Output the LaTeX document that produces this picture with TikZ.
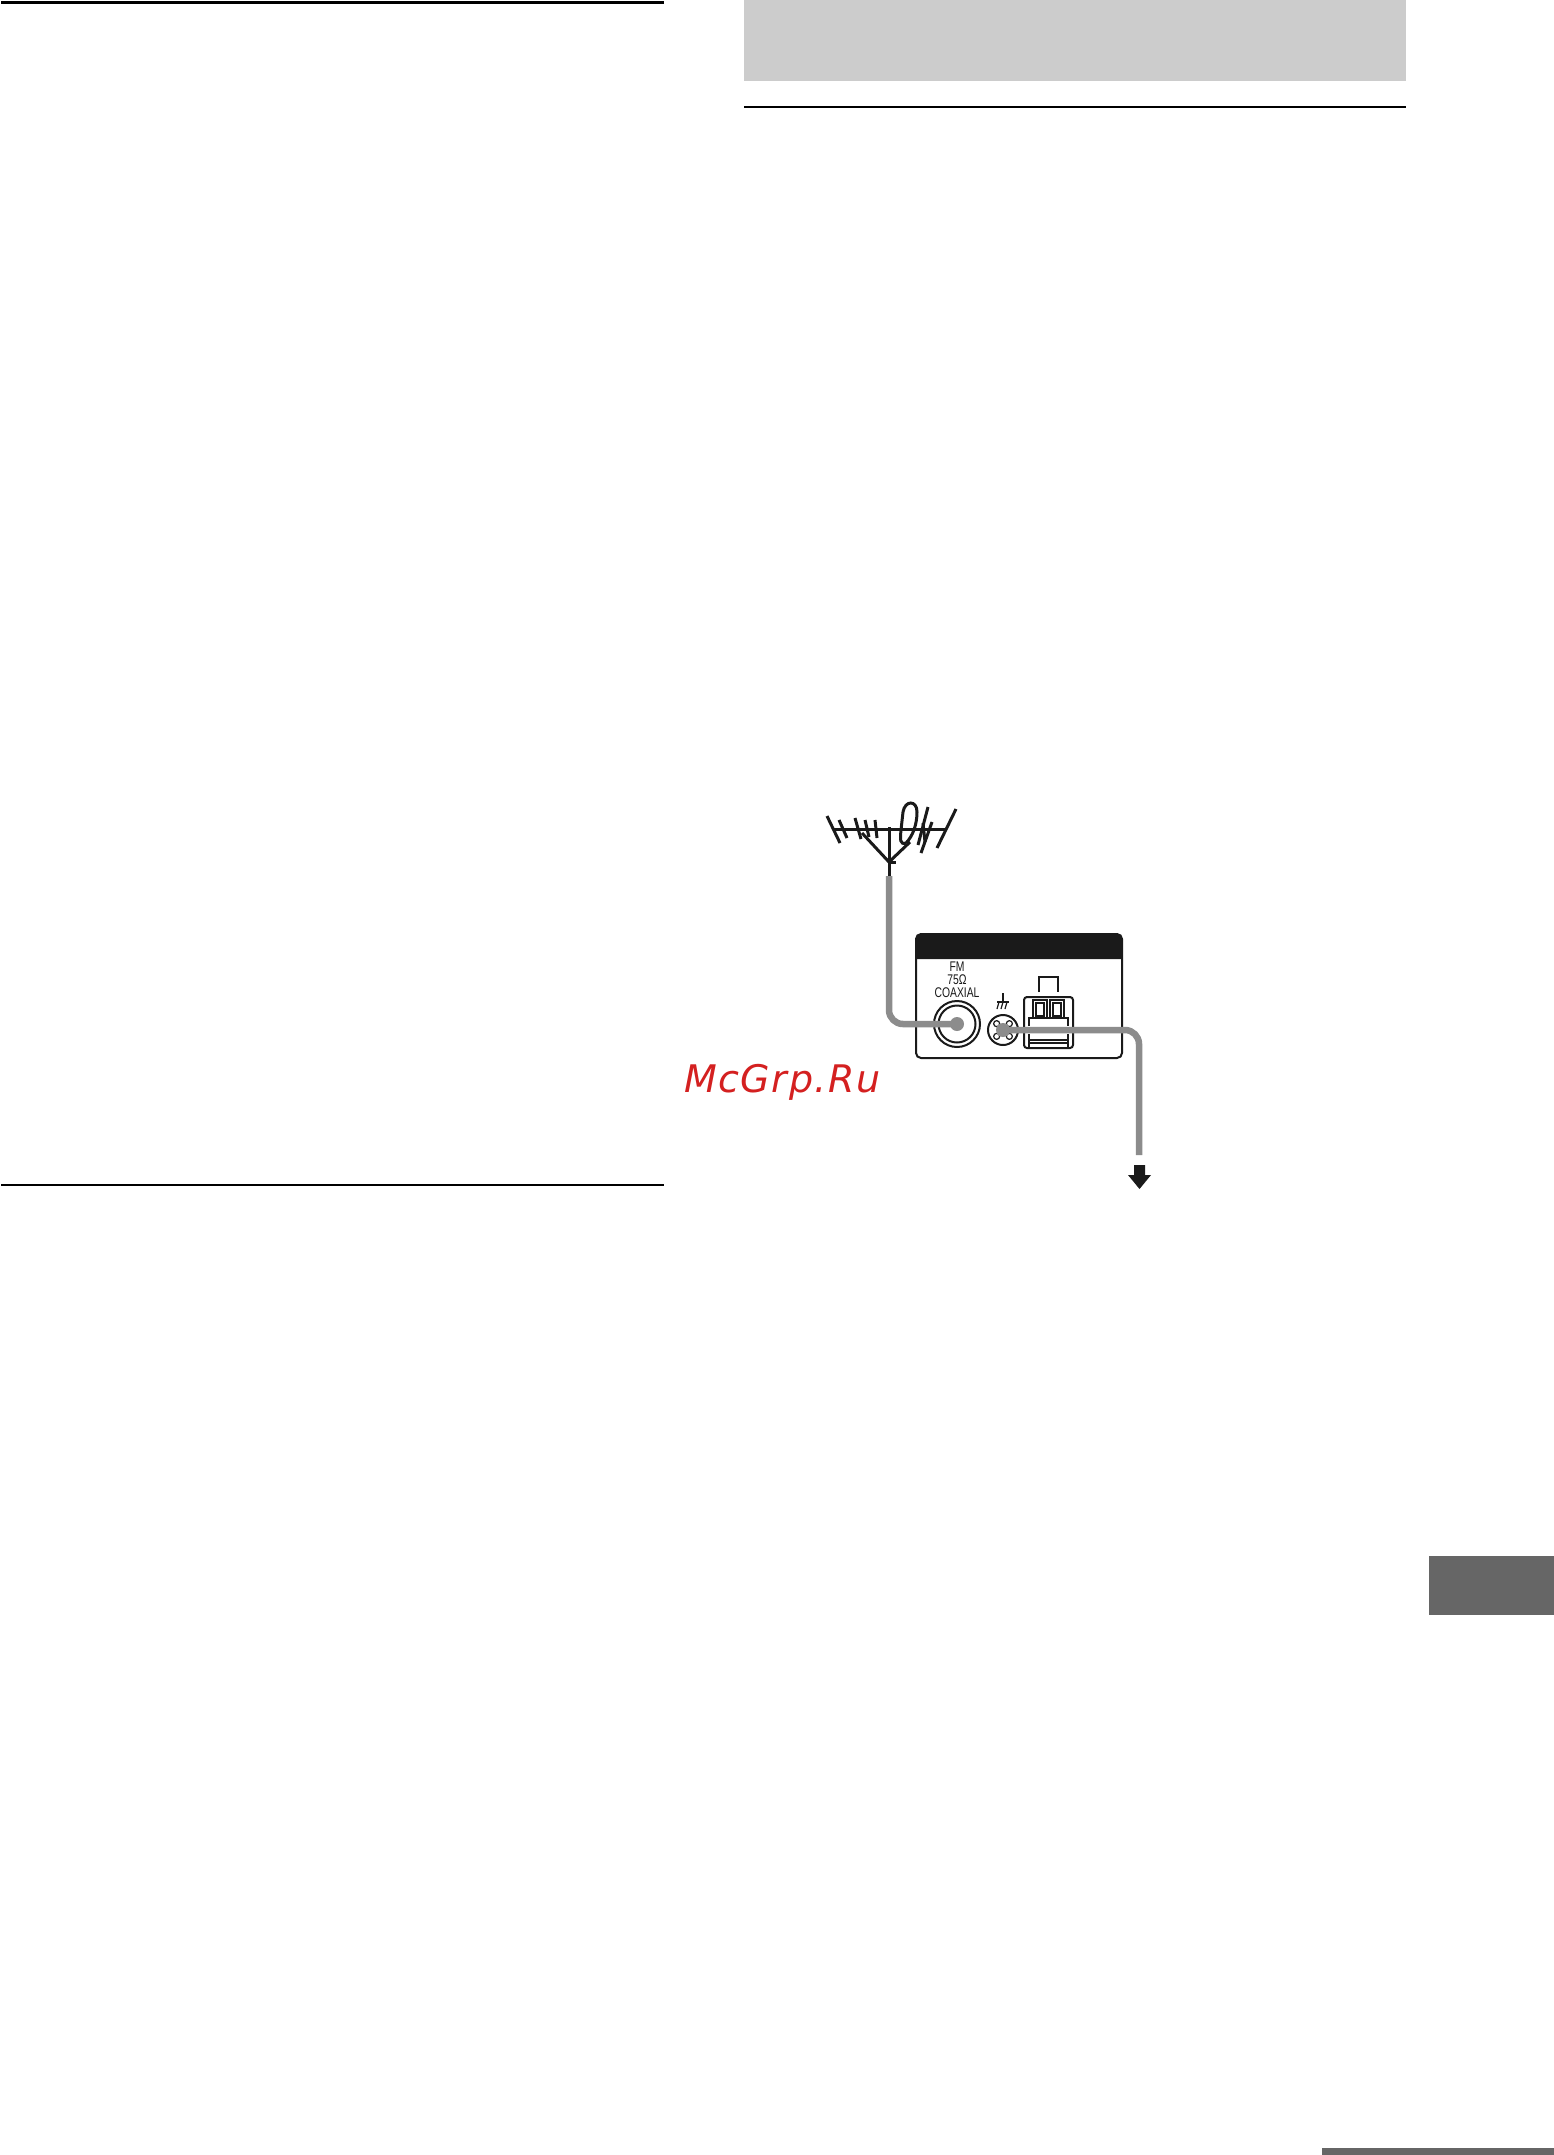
\documentclass[tikz,border=0pt]{standalone}
\usepackage{fontspec}
\setmainfont{Liberation Sans}
\newfontfamily\markfont[LetterSpace=4]{DejaVu Sans}
\newfontfamily\panelfont[FakeStretch=0.74]{Liberation Sans}
\usetikzlibrary{calc}
\definecolor{cablegray}{HTML}{8C8C8C}
\definecolor{inkblack}{HTML}{1A1A1A}
\definecolor{bandgray}{HTML}{CCCCCC}
\definecolor{tabgray}{HTML}{666666}
\definecolor{markred}{HTML}{D42020}
\tikzset{
    pagerule/.style={line width=2.4pt, color=black},
    antenna/.style={line width=3pt, color=inkblack},
    cable/.style={line width=6.5pt, color=cablegray, rounded corners=14pt},
    socket/.style={line width=2pt, color=inkblack},
    thinsocket/.style={line width=1.2pt, color=inkblack},
    panellabel/.style={inner sep=0pt, font=\panelfont\fontsize{14}{13}\selectfont, color=inkblack, align=center}
}

\begin{document}
\begin{tikzpicture}[x=1pt, y=-1pt]
    \useasboundingbox (0, 0) rectangle (1554, 2155);
    \fill [white] (0, 0) rectangle (1554, 2155);
    % page furniture
    \draw [pagerule] (1, 2.5) -- (664, 2.5);
    \draw [pagerule] (1, 1185) -- (664, 1185);
    \draw [pagerule] (744, 107) -- (1406, 107);
    \fill [bandgray] (744, 0) rectangle (1406, 81);
    \fill [tabgray] (1429, 1556) rectangle (1554, 1615);
    \fill [tabgray] (1322, 2148) rectangle (1554, 2155);
    % antenna
    \coordinate (Hub) at (889, 862);
    \coordinate (Foot) at (889, 876);
    \draw [antenna] (833, 829) -- (945, 829);
    \draw [antenna] (Foot) -- (889, 827);
    \draw [antenna] (Hub) -- (862, 833);
    \draw [antenna] (Hub) -- (910, 842);
    \draw [antenna] (Hub) -- (896, 862);
    \draw [antenna] (827, 816) -- (840, 843);
    \draw [antenna] (839, 820) -- (847, 838);
    \draw [antenna] (855, 818) -- (861, 839);
    \draw [antenna] (865, 820) -- (869, 837);
    \draw [antenna] (875, 820) -- (877, 838);
    \draw [antenna] (906, 843) .. controls (900, 845) and (900, 840) .. (901, 830) -- (903, 812) .. controls (905, 800) and (917, 800) .. (917, 812) .. controls (917, 824) and (913, 836) .. (906, 843);
    \draw [antenna] (928, 807) -- (918, 845);
    \draw [antenna] (932, 822) -- (921, 853);
    \draw [antenna] (923, 823) -- (925, 842);
    \draw [antenna] (956, 809) -- (937, 848);
    % rear panel
    \draw [inkblack, line width=2pt, rounded corners=5pt] (916, 934) rectangle (1122, 1058);
    \fill [inkblack] (916, 959) [rounded corners=5pt] -- (916, 934) -- (1122, 934) [sharp corners] -- (1122, 959) -- cycle;
    \node [panellabel] (Label) at (957, 980) {FM\\75Ω\\COAXIAL};
    % coaxial socket
    \node [circle, socket, draw, minimum size=46pt, inner sep=0pt] (Coax) at (957, 1024) {};
    \node [circle, socket, draw, minimum size=37pt, inner sep=0pt] (CoaxIn) at (957, 1024) {};
    % earth screw
    \node [circle, socket, draw, minimum size=30pt, inner sep=0pt] (Earth) at (1003, 1030) {};
    \foreach \a in {45, 135, 225, 315}
        \draw [thinsocket] ($(Earth) + (\a:9)$) circle (3);
    \draw [thinsocket] (1003, 993) -- (1003, 1002);
    \draw [thinsocket] (997, 1002) -- (1009, 1002);
    \foreach \x in {999, 1003, 1007}
        \draw [thinsocket] (\x, 1002) -- (\x - 2, 1009);
    % terminal block
    \draw [socket, rounded corners=3pt] (1024, 997) rectangle (1073, 1048);
    \draw [thinsocket] (1033, 1000) rectangle (1047, 1018);
    \draw [thinsocket] (1050, 1000) rectangle (1064, 1018);
    \draw [thinsocket] (1036, 1003) rectangle (1044, 1016);
    \draw [thinsocket] (1053, 1003) rectangle (1061, 1016);
    \draw [socket] (1029, 1026) -- (1029, 1018) -- (1068, 1018) -- (1068, 1026);
    \draw [socket] (1029, 1048) -- (1029, 1034);
    \draw [socket] (1068, 1048) -- (1068, 1034);
    \draw [thinsocket] (1029, 1040) -- (1068, 1040);
    \draw [thinsocket] (1029, 1043) -- (1068, 1043);
    \draw [socket] (1039, 992) -- (1039, 977) -- (1058, 977) -- (1058, 992);
    % cables
    \coordinate (Drop) at (1139, 1155);
    \draw [cable] (Foot) -- (889, 1024) -- (Coax.center);
    \draw [cable] (Earth.center) -- (1139, 1030) -- (Drop);
    \fill [cablegray] (Coax) circle (7);
    \fill [cablegray] (Earth) circle (7);
    % arrow
    \fill [inkblack] (1134, 1165) -- (1145, 1165) -- (1145, 1175) -- (1151, 1175) -- (1139.5, 1189) -- (1128, 1175) -- (1134, 1175) -- cycle;
    % watermark
    \node [inner sep=0pt, anchor=base west, color=markred, font=\markfont\itshape\fontsize{38}{40}\selectfont] (Mark) at (684, 1092) {McGrp.Ru};
\end{tikzpicture}
\end{document}
